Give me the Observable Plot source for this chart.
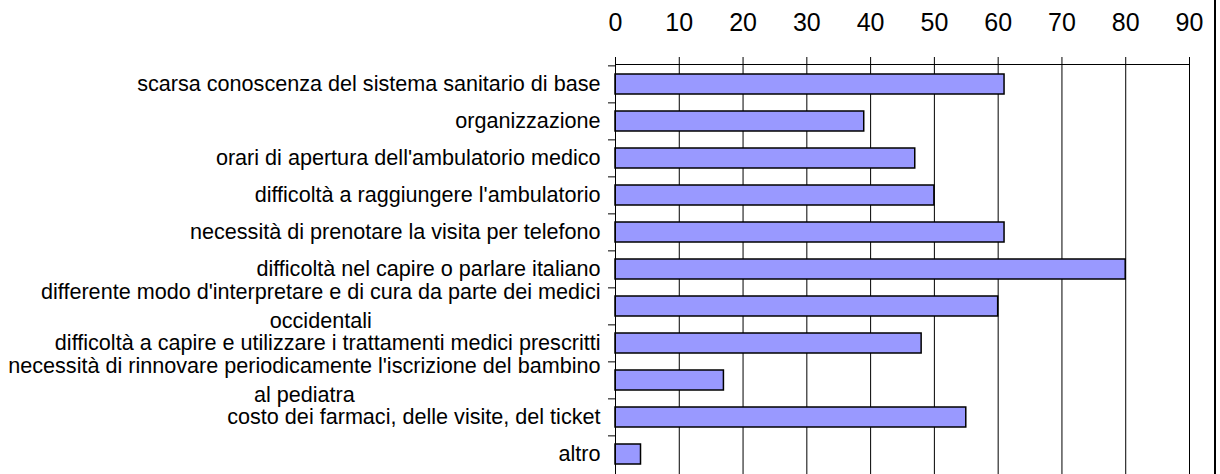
<!DOCTYPE html>
<html>
<head>
<meta charset="utf-8">
<script src="https://cdn.jsdelivr.net/npm/d3@7"></script>
<script src="https://cdn.jsdelivr.net/npm/@observablehq/plot@0.6"></script>
<style>
  html, body { margin: 0; padding: 0; background: #fff; }
  #chart { width: 1214px; height: 474px; border-right: 2px solid #000; overflow: hidden; }
  #chart svg { display: block; }
</style>
</head>
<body>
<div id="chart"></div>
<script>
const categories = [
  "scarsa conoscenza del sistema sanitario di base",
  "organizzazione",
  "orari di apertura dell'ambulatorio medico",
  "difficoltà a raggiungere l'ambulatorio",
  "necessità di prenotare la visita per telefono",
  "difficoltà nel capire o parlare italiano",
  "differente modo d'interpretare e di cura da parte dei medici\noccidentali",
  "difficoltà a capire e utilizzare i trattamenti medici prescritti",
  "necessità di rinnovare periodicamente l'iscrizione del bambino\nal pediatra",
  "costo dei farmaci, delle visite, del ticket",
  "altro"
];
const values = [61, 39, 47, 50, 61, 80, 60, 48, 17, 55, 4];
const xTicks = [0, 10, 20, 30, 40, 50, 60, 70, 80, 90];
const xDomain = [0, 90];

// layout
const W = 1214, H = 474;
const mL = 615, mR = 25, mT = 64, mB = 0;
const fontFamily = "'Liberation Sans', Arial, Helvetica, sans-serif";
const labelSize = 21.6, tickSize = 25;
const labelGap = 15, lineSpacing = 29.5, yTickLen = 7;

const k = (W - mL - mR) / (xDomain[1] - xDomain[0]);
const step = (H - mT - mB) / categories.length;

const data = categories.map((c, i) => ({cat: c, value: values[i]}));

// measure text to centre multi-line labels like the original
const ctx = document.createElement("canvas").getContext("2d");
ctx.font = `${labelSize}px ${fontFamily}`;
const labelMarks = [];
categories.forEach(c => {
  const lines = c.split("\n");
  const blockW = Math.max(...lines.map(l => ctx.measureText(l).width));
  lines.forEach((l, j) => {
    labelMarks.push(Plot.text([{cat: c, line: l}], {
      y: "cat", text: "line", frameAnchor: "left", textAnchor: "middle",
      dx: -(labelGap + blockW / 2),
      dy: (j - (lines.length - 1) / 2) * lineSpacing,
      fontSize: labelSize, fill: "#000"
    }));
  });
});

const chart = Plot.plot({
  width: W, height: H,
  marginLeft: mL, marginRight: mR, marginTop: mT, marginBottom: mB,
  style: {fontFamily, background: "#fff", color: "#000", overflow: "visible"},
  x: {domain: xDomain, axis: null},
  y: {domain: categories, paddingInner: 0.46, paddingOuter: 0.23, axis: null},
  marks: [
    Plot.gridX(xTicks, {stroke: "#000", strokeOpacity: 1, strokeWidth: 1}),
    Plot.barX(data, {x: "value", y: "cat", fill: "#9999FF", stroke: "#000", strokeWidth: 1.5}),
    Plot.frame({anchor: "top", stroke: "#000"}),
    Plot.frame({anchor: "left", stroke: "#000"}),
    Plot.ruleY(categories, {y: d => d, x1: -yTickLen / k, x2: 0, dy: -step / 2, stroke: "#000"}),
    Plot.axisX(xTicks, {anchor: "top", tickSize: 8, tickPadding: 26, fontSize: tickSize, label: null, tickFormat: d => String(d)}),
    ...labelMarks
  ]
});
document.getElementById("chart").appendChild(chart);
</script>
</body>
</html>
